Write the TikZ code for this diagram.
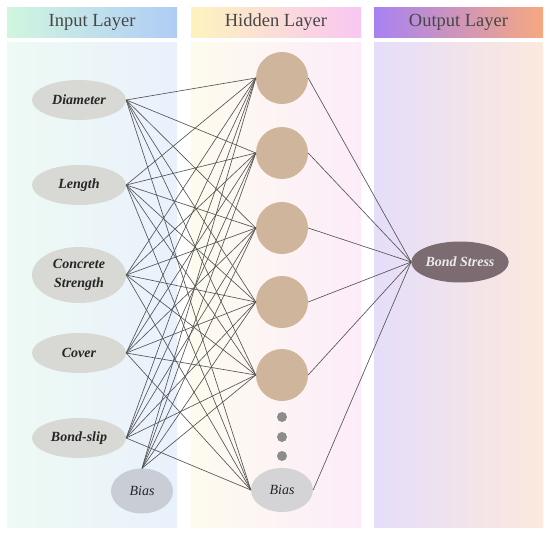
\documentclass[tikz,border=0pt]{standalone}
\usepackage{fontspec}
\setmainfont{Liberation Serif}
\usetikzlibrary{shapes.geometric}
\definecolor{edgec}{HTML}{555555}
\definecolor{ellc}{HTML}{D8D8D4}
\definecolor{biasin}{HTML}{C9CDD6}
\definecolor{biashid}{HTML}{D4D3D6}
\definecolor{neur}{HTML}{CFB59B}
\definecolor{outc}{HTML}{7C6C72}
\definecolor{dotc}{HTML}{8C8C8C}
\definecolor{hdtxt}{HTML}{474747}
\definecolor{pinL}{RGB}{238,250,244}
\definecolor{pinR}{RGB}{233,241,252}
\definecolor{phidL}{RGB}{253,251,238}
\definecolor{phidR}{RGB}{252,236,250}
\definecolor{poutL}{RGB}{229,222,250}
\definecolor{poutR}{RGB}{252,232,221}
\definecolor{hinL}{RGB}{208,246,224}
\definecolor{hinR}{RGB}{176,204,246}
\definecolor{hhidL}{RGB}{253,243,190}
\definecolor{hhidR}{RGB}{249,198,242}
\definecolor{houtL}{RGB}{168,130,242}
\definecolor{houtR}{RGB}{246,168,128}
\tikzset{
  inode/.style={ellipse, fill=ellc, minimum width=94pt, minimum height=40pt, inner sep=0pt, align=center, font=\fontsize{14}{18.5}\selectfont\bfseries\itshape, text=black!85},
  biasn/.style={ellipse, minimum width=62pt, minimum height=45pt, inner sep=0pt, font=\fontsize{14}{16}\selectfont\itshape, text=black!85},
  hnode/.style={circle, fill=neur, minimum size=52pt, inner sep=0pt},
  dotn/.style={circle, fill=dotc, minimum size=10pt, inner sep=0pt},
  conn/.style={draw=edgec, line width=0.65pt},
  hdr/.style={font=\fontsize{18.5}{20}\selectfont, text=hdtxt}
}
\begin{document}
\begin{tikzpicture}[x=1pt,y=-1pt]
\useasboundingbox (0,0) rectangle (550,533);
\fill[white] (0,0) rectangle (550,533);
% panels
\shade[left color=pinL, right color=pinR] (7,42) rectangle (177,527);
\shade[left color=phidL, right color=phidR] (191,42) rectangle (361,527);
\shade[left color=poutL, right color=poutR] (374,42) rectangle (543,527);
% headers
\shade[left color=hinL, right color=hinR] (7,7) rectangle (177,37);
\shade[left color=hhidL, right color=hhidR] (191,7) rectangle (361,37);
\shade[left color=houtL, right color=houtR] (374,7) rectangle (543,37);
\node[hdr] (h1) at (92,22) {Input Layer};
\node[hdr] (h2) at (276,22) {Hidden Layer};
\node[hdr] (h3) at (458.5,22) {Output Layer};
% input nodes
\node[inode] (i1) at (79,100) {Diameter};
\node[inode] (i2) at (79,185) {Length};
\node[inode, minimum height=56pt] (i3) at (79,275) {Concrete\\Strength};
\node[inode] (i4) at (79,353) {Cover};
\node[inode] (i5) at (79,438) {Bond-slip};
\node[biasn, fill=biasin] (ib) at (142,491) {Bias};
% hidden nodes
\node[hnode] (n1) at (282,78) {};
\node[hnode] (n2) at (282,153) {};
\node[hnode] (n3) at (282,228) {};
\node[hnode] (n4) at (282,302) {};
\node[hnode] (n5) at (282,375) {};
\node[dotn] (d1) at (282,417) {};
\node[dotn] (d2) at (282,437) {};
\node[dotn] (d3) at (282,456) {};
\node[biasn, fill=biashid, minimum height=44pt] (hb) at (282,490) {Bias};
% output
\node[ellipse, fill=outc, minimum width=94pt, minimum height=41pt, inner sep=0pt, font=\fontsize{14}{16}\selectfont\bfseries\itshape, text=white!92!black] (o) at (460,262) {Bond Stress};
% connections
\foreach \i in {i1,i2,i3,i4,i5}{
  \foreach \h in {n1,n2,n3,n4,n5}{
    \draw[conn] (\i.east) -- (\h.west);
  }
  \draw[conn] (\i.east) -- (hb.west);
}
\foreach \h in {n1,n2,n3,n4,n5}{
  \draw[conn] (ib.north) -- (\h.west);
  \draw[conn] (\h.east) -- (o.west);
}
\draw[conn] (hb.east) -- (o.west);
\end{tikzpicture}
\end{document}
